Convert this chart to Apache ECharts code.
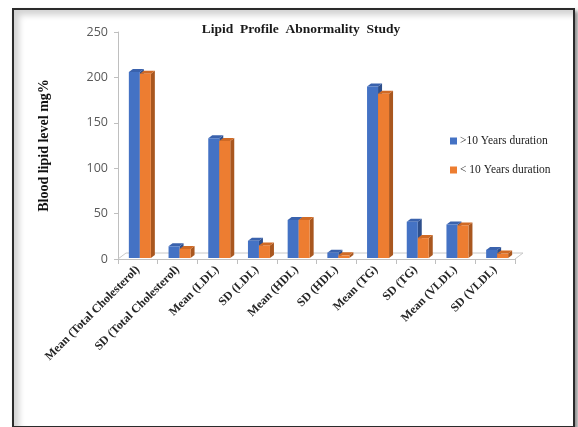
<!DOCTYPE html>
<html>
<head>
<meta charset="utf-8">
<script src="https://cdn.jsdelivr.net/npm/echarts@6/dist/echarts.min.js"></script>
<style>
  html, body { margin: 0; padding: 0; background: #fff; }
  #frame {
    position: absolute; left: 12px; top: 8px; width: 559px; height: 416px;
    border: 2px solid #2b2b2b;
    box-shadow: inset 5px 5px 6px rgba(0,0,0,0.18), 3px 3px 4px rgba(0,0,0,0.45);
  }
  #chart { position: absolute; left: 0; top: 0; width: 578px; height: 427px; }
</style>
</head>
<body>
<div id="frame"></div>
<div id="chart"></div>
<script>
var categories = ['Mean (Total Cholesterol)', 'SD (Total Cholesterol)', 'Mean (LDL)', 'SD (LDL)',
  'Mean (HDL)', 'SD (HDL)', 'Mean (TG)', 'SD (TG)', 'Mean (VLDL)', 'SD (VLDL)'];
var over10 = [206, 14, 133, 20, 43, 7, 190, 41, 38, 10];
var under10 = [204, 11, 130, 15, 43, 4, 182, 23, 37, 6];
var seriesNames = ['>10 Years duration', '< 10 Years duration'];

// fake 3d bar: front face + right side + top
function bar3d(slot, front, side, top) {
  return function (params, api) {
    var idx = api.value(0);
    var base = api.coord([idx, 0]);
    var tip = api.coord([idx, api.value(1)]);
    var w = 11, dx = 4, dy = -3;
    var x0 = base[0] + 2 + (slot - 1) * w;
    var y0 = tip[1], y1 = base[1] - 1;
    return {
      type: 'group',
      children: [
        { type: 'polygon', shape: { points: [[x0 + w, y0], [x0 + w + dx, y0 + dy], [x0 + w + dx, y1 + dy], [x0 + w, y1]] }, style: { fill: side } },
        { type: 'polygon', shape: { points: [[x0, y0], [x0 + dx, y0 + dy], [x0 + w + dx, y0 + dy], [x0 + w, y0]] }, style: { fill: top } },
        { type: 'rect', shape: { x: x0, y: y0, width: w, height: y1 - y0 }, style: { fill: front } }
      ]
    };
  };
}

// floor outline behind the bars
function floor(params, api) {
  var r = params.coordSys;
  var yb = r.y + r.height, dx = 8, dy = -6;
  return {
    type: 'polyline',
    shape: { points: [[r.x, yb], [r.x + dx, yb + dy], [r.x + r.width + dx, yb + dy], [r.x + r.width, yb]] },
    style: { stroke: '#c8c8c8', lineWidth: 1, fill: null }
  };
}

var chart = echarts.init(document.getElementById('chart'));
chart.setOption({
  animation: false,
  title: {
    text: 'Lipid  Profile  Abnormality  Study',
    left: 296, top: 18, textAlign: 'center',
    textStyle: { fontFamily: 'Liberation Serif', fontWeight: 'bold', fontSize: 13.5, color: '#1a1a1a' }
  },
  legend: {
    orient: 'vertical', left: 445, top: 130, itemGap: 17,
    itemWidth: 7, itemHeight: 7, icon: 'rect',
    textStyle: { fontFamily: 'Liberation Serif', fontSize: 11.5, color: '#222', padding: [0, 0, 0, -2] },
    data: seriesNames
  },
  grid: { left: 118, right: 63, top: 32, bottom: 168 },
  xAxis: {
    type: 'category', data: categories,
    axisLine: { lineStyle: { color: '#bfbfbf' } },
    axisTick: { show: true, length: 5, lineStyle: { color: '#bfbfbf' } },
    axisLabel: { rotate: 45, interval: 0, margin: 9, fontFamily: 'Liberation Serif', fontWeight: 'bold', fontSize: 12, color: '#262626' }
  },
  yAxis: {
    type: 'value', min: 0, max: 250, interval: 50,
    name: 'Blood lipid level mg%', nameLocation: 'middle', nameGap: 67, nameRotate: 90,
    nameTextStyle: { fontFamily: 'Liberation Serif', fontWeight: 'bold', fontSize: 14, color: '#111' },
    axisLine: { show: true, lineStyle: { color: '#bfbfbf' } },
    axisTick: { show: true, length: 4, lineStyle: { color: '#bfbfbf' } },
    splitLine: { show: false },
    axisLabel: { margin: 10, fontFamily: 'Open Sans', fontSize: 12.5, color: '#595959' }
  },
  series: [
    {
      type: 'custom', renderItem: floor, silent: true, z: 1,
      data: [[0, 0]]
    },
    {
      name: seriesNames[0], type: 'custom', itemStyle: { color: '#4472C4' }, z: 2,
      renderItem: bar3d(0, '#4472C4', '#2E4F8C', '#3A62AD'),
      data: over10.map(function (v, i) { return [i, v]; })
    },
    {
      name: seriesNames[1], type: 'custom', itemStyle: { color: '#ED7D31' }, z: 3,
      renderItem: bar3d(1, '#ED7D31', '#A9571F', '#D06A25'),
      data: under10.map(function (v, i) { return [i, v]; })
    }
  ]
});
</script>
</body>
</html>
